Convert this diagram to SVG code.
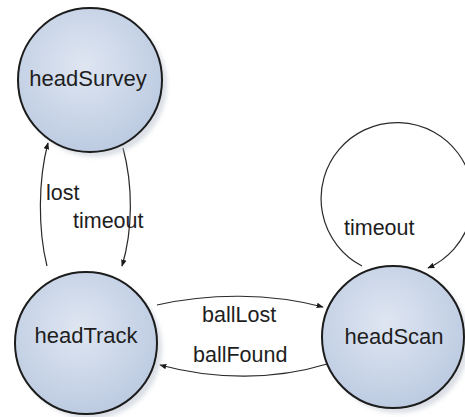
<svg xmlns="http://www.w3.org/2000/svg" width="465" height="417" viewBox="0 0 465 417">
  <defs>
    <radialGradient id="stateFill" cx="0.45" cy="0.4" r="0.65">
      <stop offset="0" stop-color="#dfe6f2"/>
      <stop offset="1" stop-color="#bac9e0"/>
    </radialGradient>
    <filter id="shadow" x="-20%" y="-20%" width="150%" height="150%">
      <feGaussianBlur stdDeviation="2"/>
    </filter>
    <marker id="arrow" viewBox="0 0 10 10" refX="9" refY="5" markerWidth="7" markerHeight="7" orient="auto" markerUnits="userSpaceOnUse">
      <path d="M0,1 L10,5 L0,9 z" fill="#1a1a1a"/>
    </marker>
  </defs>
  <style>
    .state { fill: url(#stateFill); stroke: #1c1c1c; stroke-width: 2; }
    .shade { fill: #b8bfcc; opacity: 0.5; filter: url(#shadow); }
    .edge { fill: none; stroke: #2a2a2a; stroke-width: 1.2; marker-end: url(#arrow); }
    .name { font-family: "Liberation Sans", Arial, sans-serif; font-size: 22px; fill: #1e1e1e; text-anchor: middle; }
    .label { font-family: "Liberation Sans", Arial, sans-serif; font-size: 21.5px; fill: #1e1e1e; }
  </style>
  <rect width="465" height="417" fill="#ffffff"/>

  <g id="connectors">
    <!-- headTrack -> headSurvey : lost -->
    <path class="edge" d="M 47 266 C 38 230, 38 180, 48 143"/>
    <!-- headSurvey -> headTrack : timeout -->
    <path class="edge" d="M 123 148 C 133 185, 133 230, 122 266"/>
    <!-- headTrack -> headScan : ballLost -->
    <path class="edge" d="M 157 305 C 210 293, 270 293, 323 307"/>
    <!-- headScan -> headTrack : ballFound -->
    <path class="edge" d="M 327 364 C 275 380, 215 380, 160 365"/>
    <!-- headScan self loop : timeout -->
    <path class="edge" d="M 362 266 A 76 76 0 1 1 428 268"/>
  </g>

  <g id="headSurvey">
    <circle class="shade" cx="95" cy="85" r="72"/>
    <circle class="state" cx="90" cy="80" r="72"/>
    <text class="name" x="88" y="86">headSurvey</text>
  </g>

  <g id="headTrack">
    <circle class="shade" cx="91" cy="348" r="71"/>
    <circle class="state" cx="86" cy="343" r="71"/>
    <text class="name" x="86" y="343">headTrack</text>
  </g>

  <g id="headScan">
    <circle class="shade" cx="398" cy="342" r="71"/>
    <circle class="state" cx="393" cy="337" r="71"/>
    <text class="name" x="394" y="344">headScan</text>
  </g>

  <g id="labels">
    <text class="label" x="46" y="200">lost</text>
    <text class="label" x="73" y="228">timeout</text>
    <text class="label" x="202" y="322">ballLost</text>
    <text class="label" x="193" y="362">ballFound</text>
    <text class="label" x="344" y="235">timeout</text>
  </g>
</svg>
